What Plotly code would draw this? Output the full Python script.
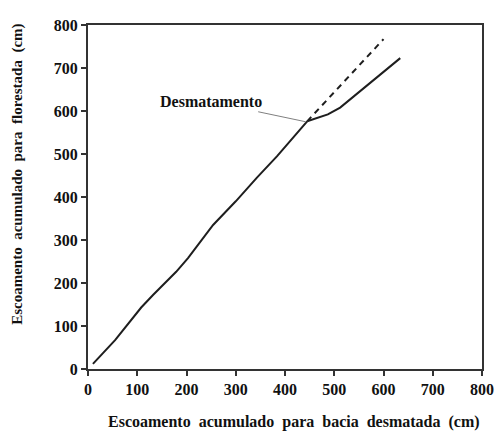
import plotly.graph_objects as go

# Data (cm)
x_before = [10, 55, 108, 132, 179, 203, 254, 300, 343, 384, 445]
y_before = [12, 67, 143, 172, 226, 258, 335, 390, 445, 495, 576]
x_after = [445, 470, 487, 512, 570, 634]
y_after = [576, 586, 592, 608, 662, 723]
x_trend = [445, 600]
y_trend = [576, 767]
tick_vals = [0, 100, 200, 300, 400, 500, 600, 700, 800]
tick_text = ["<b>%d</b>" % v for v in tick_vals]

FONT = "Liberation Serif"
LINE = "#1e1e1e"
TXT = "#111111"

fig = go.Figure()
fig.add_trace(go.Scatter(x=x_before, y=y_before, mode="lines",
                         line=dict(color=LINE, width=2), showlegend=False))
fig.add_trace(go.Scatter(x=x_after, y=y_after, mode="lines",
                         line=dict(color=LINE, width=2), showlegend=False))
fig.add_trace(go.Scatter(x=x_trend, y=y_trend, mode="lines",
                         line=dict(color=LINE, width=2, dash="6px,5px"), showlegend=False))

fig.add_annotation(x=442, y=575, text="<b>Desmatamento</b>", showarrow=True,
                   arrowhead=0, arrowwidth=1, arrowcolor="#808080",
                   ax=-95, ay=-20, font=dict(family=FONT, size=16, color=TXT))

# Axis titles as annotations for precise placement
fig.add_annotation(xref="paper", yref="paper", x=0.524, y=-0.155, showarrow=False,
                   xanchor="center", yanchor="middle",
                   text="<b>Escoamento\u00a0 acumulado\u00a0 para\u00a0 bacia\u00a0 desmatada\u00a0 (cm)</b>",
                   font=dict(family=FONT, size=16, color=TXT))
fig.add_annotation(xref="paper", yref="paper", x=-0.178, y=0.567, showarrow=False,
                   xanchor="center", yanchor="middle", textangle=-90,
                   text="<b>Escoamento\u00a0 acumulado\u00a0 para\u00a0 florestada\u00a0 (cm)</b>",
                   font=dict(family=FONT, size=15, color=TXT))

axis_common = dict(range=[0, 800], tickvals=tick_vals, ticktext=tick_text,
                   ticks="outside", ticklen=5,
                   tickwidth=2, tickcolor="#333", showline=True, linewidth=2,
                   linecolor="#333", mirror=True, showgrid=False, zeroline=False,
                   automargin=False,
                   tickfont=dict(family=FONT, size=16, color=TXT))

fig.update_xaxes(**axis_common)
fig.update_yaxes(**axis_common)

fig.update_layout(width=501, height=434, margin=dict(l=88, r=19, t=25, b=65),
                  paper_bgcolor="white", plot_bgcolor="white")

fig.write_html("out.html")
